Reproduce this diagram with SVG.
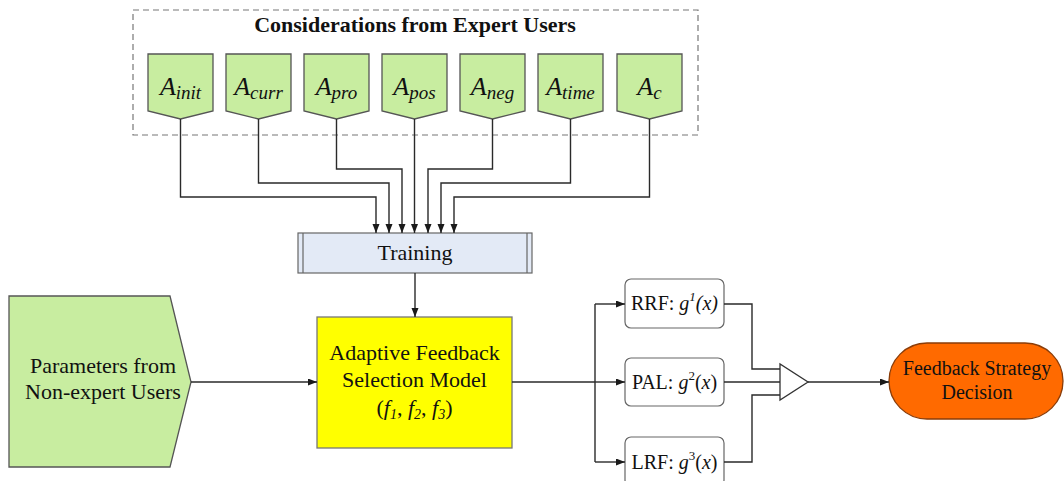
<svg xmlns="http://www.w3.org/2000/svg" width="1064" height="481" viewBox="0 0 1064 481">
<defs>
<marker id="arr" markerUnits="userSpaceOnUse" markerWidth="10" markerHeight="8" refX="9" refY="3.5" orient="auto">
<path d="M0,0 L9,3.5 L0,7 z" fill="#1a1a1a"/>
</marker>
<style>
text{font-family:"Liberation Serif","Times New Roman",serif;fill:#111}
.green{fill:#c8eda0;stroke:#555;stroke-width:1.3}
.lbl{font-size:26px;font-style:italic}
.sub{font-size:19px}
.box{fill:#fff;stroke:#666;stroke-width:1.2}
.c{fill:none;stroke:#2a2a2a;stroke-width:1.4}
.ca{fill:none;stroke:#2a2a2a;stroke-width:1.4;marker-end:url(#arr)}
.t20{font-size:20px}
.t22{font-size:22px}
</style>
</defs>
<rect width="1064" height="481" fill="#fff"/>

<g id="expert-group">
<rect x="133" y="10" width="565" height="125" fill="none" stroke="#777" stroke-width="1.2" stroke-dasharray="6,4"/>
<text x="415" y="32" text-anchor="middle" font-size="22" font-weight="bold">Considerations from Expert Users</text>
</g>

<g id="node-A-init"><polygon class="green" points="148,54 213,54 213,111 180.5,119 148,111"/><text class="lbl" x="180.5" y="95" text-anchor="middle">A<tspan class="sub" dy="4">init</tspan></text></g>
<g id="node-A-curr"><polygon class="green" points="226,54 291,54 291,111 258.5,119 226,111"/><text class="lbl" x="258.5" y="95" text-anchor="middle">A<tspan class="sub" dy="4">curr</tspan></text></g>
<g id="node-A-pro"><polygon class="green" points="304,54 369,54 369,111 336.5,119 304,111"/><text class="lbl" x="336.5" y="95" text-anchor="middle">A<tspan class="sub" dy="4">pro</tspan></text></g>
<g id="node-A-pos"><polygon class="green" points="382,54 447,54 447,111 414.5,119 382,111"/><text class="lbl" x="414.5" y="95" text-anchor="middle">A<tspan class="sub" dy="4">pos</tspan></text></g>
<g id="node-A-neg"><polygon class="green" points="460,54 525,54 525,111 492.5,119 460,111"/><text class="lbl" x="492.5" y="95" text-anchor="middle">A<tspan class="sub" dy="4">neg</tspan></text></g>
<g id="node-A-time"><polygon class="green" points="538,54 603,54 603,111 570.5,119 538,111"/><text class="lbl" x="570.5" y="95" text-anchor="middle">A<tspan class="sub" dy="4">time</tspan></text></g>
<g id="node-A-c"><polygon class="green" points="617,54 682,54 682,111 649.5,119 617,111"/><text class="lbl" x="649.5" y="95" text-anchor="middle">A<tspan class="sub" dy="4">c</tspan></text></g>

<g id="node-training">
<rect x="298" y="233" width="234" height="40" fill="#e3eaf6" stroke="#666" stroke-width="1.2"/>
<line x1="303" y1="233" x2="303" y2="273" stroke="#666" stroke-width="1.2"/>
<line x1="527" y1="233" x2="527" y2="273" stroke="#666" stroke-width="1.2"/>
<text class="t22" x="415" y="260" text-anchor="middle">Training</text>
</g>

<g id="node-params">
<polygon class="green" points="9,296 170,296 191,382 170,467 9,467"/>
<text class="t22" x="103" y="373" text-anchor="middle">Parameters from</text>
<text class="t22" x="103" y="399" text-anchor="middle">Non-expert Users</text>
</g>

<g id="node-model">
<rect x="317" y="317" width="195" height="131" fill="#ffff00" stroke="#777" stroke-width="1.3"/>
<text class="t22" x="414.5" y="360" text-anchor="middle">Adaptive Feedback</text>
<text class="t22" x="414.5" y="387" text-anchor="middle">Selection Model</text>
<text class="t22" x="414.5" y="415" text-anchor="middle">(<tspan font-style="italic">f<tspan font-size="14" dy="4">1</tspan></tspan><tspan dy="-4">, </tspan><tspan font-style="italic">f<tspan font-size="14" dy="4">2</tspan></tspan><tspan dy="-4">, </tspan><tspan font-style="italic">f<tspan font-size="14" dy="4">3</tspan></tspan><tspan dy="-4">)</tspan></text>
</g>

<g id="node-rrf">
<rect class="box" x="625" y="279" width="99" height="49" rx="6"/>
<text class="t20" x="674.5" y="310" text-anchor="middle">RRF: <tspan font-style="italic">g<tspan font-size="13" dy="-9">1</tspan><tspan dy="9">(x)</tspan></tspan></text>
</g>
<g id="node-pal">
<rect class="box" x="625" y="358" width="99" height="48" rx="6"/>
<text class="t20" x="674.5" y="389" text-anchor="middle">PAL: <tspan font-style="italic">g</tspan><tspan font-size="13" dy="-9">2</tspan><tspan dy="9">(</tspan><tspan font-style="italic">x</tspan>)</text>
</g>
<g id="node-lrf">
<rect class="box" x="625" y="437" width="99" height="49" rx="6"/>
<text class="t20" x="674.5" y="469" text-anchor="middle">LRF: <tspan font-style="italic">g</tspan><tspan font-size="13" dy="-9">3</tspan><tspan dy="9">(</tspan><tspan font-style="italic">x</tspan>)</text>
</g>

<g id="node-combiner">
<polygon points="780,364 780,400 808,382" fill="#fff" stroke="#333" stroke-width="1.3"/>
</g>

<g id="node-decision">
<rect x="889" y="343" width="174" height="76" rx="38" fill="#ff6a00" stroke="#8a3c08" stroke-width="1.3"/>
<text class="t20" x="977" y="375" text-anchor="middle">Feedback Strategy</text>
<text class="t20" x="977" y="399" text-anchor="middle">Decision</text>
</g>

<g id="connectors">
<polyline class="ca" points="180.5,119 180.5,197 376,197 376,233"/>
<polyline class="ca" points="258.5,119 258.5,183 389,183 389,233"/>
<polyline class="ca" points="336.5,119 336.5,169 402,169 402,233"/>
<polyline class="ca" points="414.5,119 414.5,233"/>
<polyline class="ca" points="492.5,119 492.5,169 428,169 428,233"/>
<polyline class="ca" points="570.5,119 570.5,183 441,183 441,233"/>
<polyline class="ca" points="649.5,119 649.5,197 454,197 454,233"/>
<line class="ca" x1="415" y1="273" x2="415" y2="317"/>
<line class="ca" x1="191" y1="382" x2="317" y2="382"/>
<line class="c" x1="512" y1="382" x2="595" y2="382"/>
<polyline class="c" points="595,304 595,462"/>
<line class="ca" x1="595" y1="304" x2="625" y2="304"/>
<line class="ca" x1="595" y1="382" x2="625" y2="382"/>
<line class="ca" x1="595" y1="462" x2="625" y2="462"/>
<polyline class="c" points="724,304 752,304 752,369 780,369"/>
<line class="c" x1="724" y1="382" x2="780" y2="382"/>
<polyline class="c" points="724,462 752,462 752,395 780,395"/>
<line class="ca" x1="808" y1="382" x2="889" y2="382"/>
</g>
</svg>
